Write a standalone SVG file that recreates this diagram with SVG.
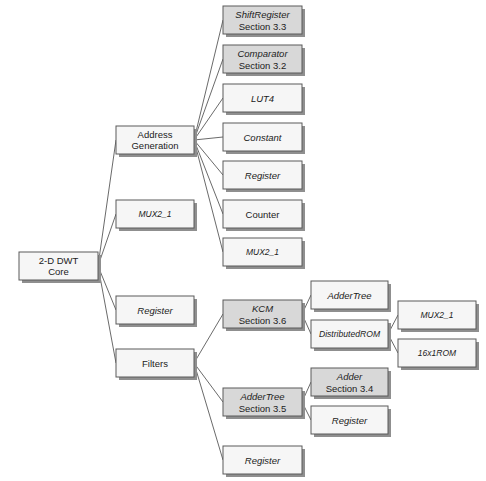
<svg xmlns="http://www.w3.org/2000/svg" width="486" height="481" viewBox="0 0 486 481">
<style>
.sh{fill:#8f8f8f}
.bx{fill:#f6f6f6;stroke:#5a5a5a;stroke-width:1}
.g .bx{fill:#d8d8d8}
text{font-family:"Liberation Sans",Arial,sans-serif;font-size:9.5px;fill:#222;text-anchor:middle}
.i{font-style:italic}
.sm{font-size:8.5px}
#conn line{stroke:#444;stroke-width:0.8}
</style>
<rect width="486" height="481" fill="#fff"/>
<g id="conn">
<line x1="98" y1="266" x2="116" y2="140"/>
<line x1="98" y1="266" x2="116" y2="214"/>
<line x1="98" y1="266" x2="116" y2="310"/>
<line x1="98" y1="266" x2="116" y2="363"/>
<line x1="194" y1="140" x2="223" y2="20"/>
<line x1="194" y1="140" x2="223" y2="59"/>
<line x1="194" y1="140" x2="223" y2="98"/>
<line x1="194" y1="140" x2="223" y2="137"/>
<line x1="194" y1="140" x2="223" y2="175"/>
<line x1="194" y1="140" x2="223" y2="214"/>
<line x1="194" y1="140" x2="223" y2="252"/>
<line x1="194" y1="363" x2="223" y2="314"/>
<line x1="194" y1="363" x2="223" y2="402"/>
<line x1="194" y1="363" x2="223" y2="460"/>
<line x1="302" y1="314" x2="311" y2="295"/>
<line x1="302" y1="314" x2="311" y2="334"/>
<line x1="302" y1="402" x2="311" y2="382"/>
<line x1="302" y1="402" x2="311" y2="420"/>
<line x1="388" y1="334" x2="398" y2="315"/>
<line x1="388" y1="334" x2="398" y2="353"/>
</g>
<g id="core"><rect class="sh" x="22" y="255" width="79" height="28"/><rect class="bx" x="19" y="252" width="79" height="28"/><text x="58.5" y="264">2-D DWT</text><text x="58.5" y="275">Core</text></g>
<g id="addrgen"><rect class="sh" x="119" y="129" width="78" height="28"/><rect class="bx" x="116" y="126" width="78" height="28"/><text x="155" y="138">Address</text><text x="155" y="149">Generation</text></g>
<g id="mux_a"><rect class="sh" x="119" y="203" width="78" height="28"/><rect class="bx" x="116" y="200" width="78" height="28"/><text class="i sm" x="155" y="217">MUX2_1</text></g>
<g id="reg_a"><rect class="sh" x="119" y="299" width="78" height="28"/><rect class="bx" x="116" y="296" width="78" height="28"/><text class="i" x="155" y="313.5">Register</text></g>
<g id="filters"><rect class="sh" x="119" y="352" width="78" height="28"/><rect class="bx" x="116" y="349" width="78" height="28"/><text x="155" y="366.5">Filters</text></g>
<g id="shiftreg" class="g"><rect class="sh" x="226" y="9" width="79" height="28"/><rect class="bx" x="223" y="6" width="79" height="28"/><text class="i" x="262.5" y="18">ShiftRegister</text><text x="262.5" y="29.5">Section 3.3</text></g>
<g id="comparator" class="g"><rect class="sh" x="226" y="48" width="79" height="28"/><rect class="bx" x="223" y="45" width="79" height="28"/><text class="i" x="262.5" y="57">Comparator</text><text x="262.5" y="68.5">Section 3.2</text></g>
<g id="lut4"><rect class="sh" x="226" y="87" width="79" height="28"/><rect class="bx" x="223" y="84" width="79" height="28"/><text class="i" x="262.5" y="101.5">LUT4</text></g>
<g id="constant"><rect class="sh" x="226" y="126" width="79" height="28"/><rect class="bx" x="223" y="123" width="79" height="28"/><text class="i" x="262.5" y="140.5">Constant</text></g>
<g id="reg_b"><rect class="sh" x="226" y="164" width="79" height="28"/><rect class="bx" x="223" y="161" width="79" height="28"/><text class="i" x="262.5" y="178.5">Register</text></g>
<g id="counter"><rect class="sh" x="226" y="203" width="79" height="28"/><rect class="bx" x="223" y="200" width="79" height="28"/><text x="262.5" y="217.5">Counter</text></g>
<g id="mux_b"><rect class="sh" x="226" y="241" width="79" height="28"/><rect class="bx" x="223" y="238" width="79" height="28"/><text class="i sm" x="262.5" y="255">MUX2_1</text></g>
<g id="kcm" class="g"><rect class="sh" x="226" y="303" width="79" height="28"/><rect class="bx" x="223" y="300" width="79" height="28"/><text class="i" x="262.5" y="312">KCM</text><text x="262.5" y="323.5">Section 3.6</text></g>
<g id="addertree35" class="g"><rect class="sh" x="226" y="391" width="79" height="28"/><rect class="bx" x="223" y="388" width="79" height="28"/><text class="i" x="262.5" y="400">AdderTree</text><text x="262.5" y="411.5">Section 3.5</text></g>
<g id="reg_c"><rect class="sh" x="226" y="449" width="79" height="28"/><rect class="bx" x="223" y="446" width="79" height="28"/><text class="i" x="262.5" y="463.5">Register</text></g>
<g id="addertree"><rect class="sh" x="314" y="284" width="77" height="28"/><rect class="bx" x="311" y="281" width="77" height="28"/><text class="i" x="349.5" y="298.5">AdderTree</text></g>
<g id="distrom"><rect class="sh" x="314" y="323" width="77" height="28"/><rect class="bx" x="311" y="320" width="77" height="28"/><text class="i" x="349.5" y="337" style="font-size:8.6px">DistributedROM</text></g>
<g id="adder34" class="g"><rect class="sh" x="314" y="371" width="77" height="28"/><rect class="bx" x="311" y="368" width="77" height="28"/><text class="i" x="349.5" y="380">Adder</text><text x="349.5" y="391.5">Section 3.4</text></g>
<g id="reg_d"><rect class="sh" x="314" y="409" width="77" height="28"/><rect class="bx" x="311" y="406" width="77" height="28"/><text class="i" x="349.5" y="423.5">Register</text></g>
<g id="mux_c"><rect class="sh" x="401" y="304" width="78" height="28"/><rect class="bx" x="398" y="301" width="78" height="28"/><text class="i sm" x="437" y="318">MUX2_1</text></g>
<g id="rom16"><rect class="sh" x="401" y="342" width="78" height="28"/><rect class="bx" x="398" y="339" width="78" height="28"/><text class="i sm" x="437" y="356">16x1ROM</text></g>
</svg>
